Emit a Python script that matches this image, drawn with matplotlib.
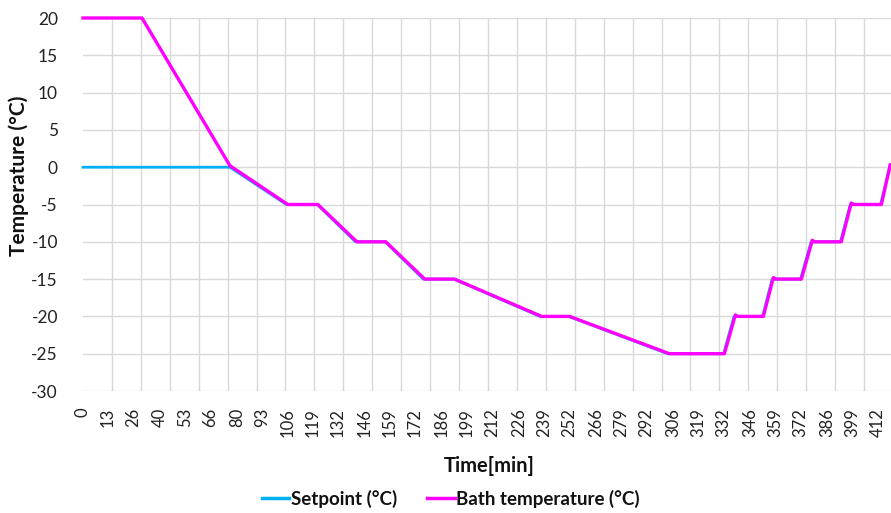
import matplotlib
matplotlib.use("Agg")
import matplotlib.pyplot as plt
from matplotlib.lines import Line2D

plt.rcParams['font.family'] = ['Lato', 'DejaVu Sans']

# ---- data ----
bath_time = [0, 30.6, 76.2, 106.2, 121.8, 142.0, 157.0, 177.2, 192.7, 237.8, 252.3,
             304.1, 332.6, 338.3, 339.5, 352.8, 358.0, 359.2, 372.5, 378.2, 379.4,
             393.2, 398.4, 399.6, 414.0, 418.6]
bath_temp = [20, 20, 0.2, -5, -5, -10, -10, -15, -15, -20, -20,
             -25, -25, -19.8, -20, -20, -14.8, -15, -15, -9.8, -10,
             -10, -4.8, -5, -5, 0.3]

setpoint_time = [0, 76.2, 105.5, 121.5, 141.3, 156.7, 176.5, 192.4, 237.0, 252.0,
                 303.2, 332.2, 337.6, 352.4, 357.4, 372.1, 377.6, 392.8, 397.9,
                 413.6, 418.6]
setpoint_temp = [0, 0, -5, -5, -10, -10, -15, -15, -20, -20,
                 -25, -25, -20, -20, -15, -15, -10, -10, -5,
                 -5, 0.3]

tick_labels = [0, 13, 26, 40, 53, 66, 80, 93, 106, 119, 132, 146, 159, 172, 186,
               199, 212, 226, 239, 252, 266, 279, 292, 306, 319, 332, 346, 359,
               372, 386, 399, 412]
grid_times = list(range(0, 406, 15))
y_ticks = list(range(-30, 21, 5))

# ---- figure ----
W, H = 891, 513
fig = plt.figure(figsize=(W / 100, H / 100), dpi=100)
ax = fig.add_axes([83 / W, 1 - 391 / H, (891 - 83) / W, (391 - 18) / H])

ax.plot(setpoint_time, setpoint_temp, color='#00B0F0', lw=2.0, clip_on=False,
        solid_joinstyle='round', zorder=3)
ax.plot(bath_time, bath_temp, color='#FF00FF', lw=2.4, clip_on=False,
        solid_joinstyle='round', zorder=4)

ax.set_xlim(0, 419)
ax.set_ylim(-30, 20)

ax.set_yticks(y_ticks)
ax.set_yticklabels([str(v) for v in y_ticks])
ax.set_xticks(tick_labels)
ax.set_xticklabels([str(v) for v in tick_labels], rotation=90)
ax.set_xticks(grid_times, minor=True)

ax.tick_params(axis='both', which='both', length=0)
ax.tick_params(axis='y', pad=18, labelsize=12.5, colors='#222222')
ax.tick_params(axis='x', pad=12, labelsize=12, colors='#222222')

ax.grid(False)
ax.yaxis.grid(True, which='major', color='#d9d9d9', lw=1.0)
ax.xaxis.grid(True, which='minor', color='#d9d9d9', lw=1.0)
ax.set_axisbelow(True)
for s in ax.spines.values():
    s.set_visible(False)

fig.text(19 / W, 1 - 176 / H, 'Temperature (°C)', rotation=90, ha='center',
         va='center', fontsize=15, fontweight='bold', color='#111111')
fig.text(489 / W, 1 - 466 / H, 'Time[min]', ha='center', va='center',
         fontsize=14.5, fontweight='bold', color='#111111')

handles = [Line2D([], [], color='#00B0F0', lw=2.5),
           Line2D([], [], color='#FF00FF', lw=2.5)]
fig.legend(handles, ['Setpoint (°C)', 'Bath temperature (°C)'], loc='center',
           bbox_to_anchor=(451 / W, 1 - 499 / H), ncol=2, frameon=False,
           prop={'size': 13.5, 'weight': 'bold'}, handlelength=1.45,
           handletextpad=0.1, columnspacing=1.6, labelcolor='#111111')

fig.savefig('out.png', dpi=100, facecolor='white')
